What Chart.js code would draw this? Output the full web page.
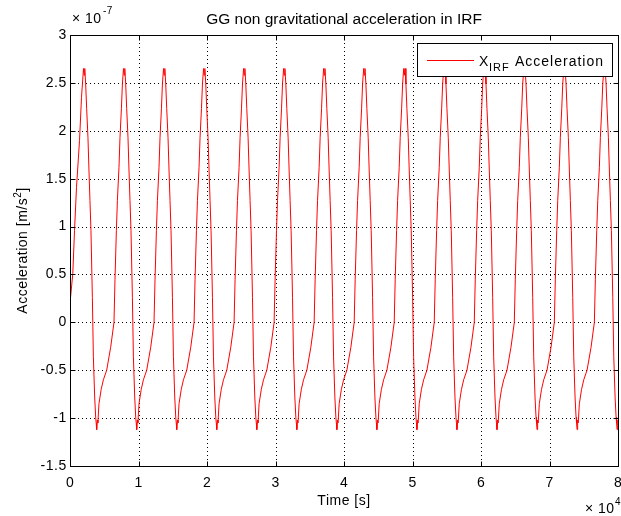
<!DOCTYPE html>
<html>
<head>
<meta charset="utf-8">
<script src="https://cdn.jsdelivr.net/npm/chart.js@4/dist/chart.umd.min.js"></script>
<style>
  html, body { margin: 0; padding: 0; background: #fff; }
  #wrap { width: 621px; height: 516px; }
</style>
</head>
<body>
<div id="wrap"><canvas id="chart" width="621" height="516"></canvas></div>
<script>
// time in s, acceleration in units of 1e-7 m/s^2
const xTicks = [0, 10000, 20000, 30000, 40000, 50000, 60000, 70000, 80000];
const yTicks = [-1.5, -1, -0.5, 0, 0.5, 1, 1.5, 2, 2.5, 3];

// first partial rise at the start of the record
const startTimes = [0, 410, 660, 950, 1390, 1680, 1970];
const startValues = [0.2, 0.51, 0.96, 1.41, 1.9, 2.35, 2.65];

// one orbit, times after the orbit's minimum
const cycleOffsets = [0, 88, 175, 336, 657, 979, 1461, 2045, 2528, 2674, 2878, 3024, 3258, 3404,
  3609, 3755, 3915, 4018, 4105, 4237, 4383, 4573, 4719, 4865, 5011, 5216, 5362, 5552, 5698, 5771];
const cycleValues = [-1.12, -1.02, -1.05, -0.85, -0.70, -0.60, -0.50, -0.26, 0.00, 0.45, 0.96, 1.27, 1.62, 1.93,
  2.23, 2.49, 2.65, 2.58, 2.65, 2.49, 2.23, 1.93, 1.59, 1.27, 0.96, 0.26, -0.36, -0.78, -0.99, -1.05];

// times of the minima (first one lies before the record starts)
const cycleStarts = [-1950, 3894, 9738, 15582, 21426, 27270, 33114, 38958, 44802, 50646,
  56490, 62334, 68178, 74022, 79866];

const points = startTimes.map((t, i) => ({ x: t, y: startValues[i] }));
cycleStarts.forEach(m => {
  cycleOffsets.forEach((o, i) => {
    const t = m + o;
    if (t > startTimes[startTimes.length - 1] && t <= 80000) points.push({ x: t, y: cycleValues[i] });
  });
});

const FONT = '"Liberation Sans", Arial, Helvetica, sans-serif';

const matlabAxes = {
  id: 'matlabAxes',
  beforeDatasetsDraw(chart) {
    const { ctx, chartArea: a, scales: { x, y } } = chart;
    ctx.save();
    ctx.strokeStyle = '#000';
    ctx.lineWidth = 1;
    ctx.setLineDash([1, 3]);
    xTicks.slice(1, -1).forEach(v => {
      const px = Math.round(x.getPixelForValue(v)) + 0.5;
      ctx.beginPath(); ctx.moveTo(px, a.top); ctx.lineTo(px, a.bottom); ctx.stroke();
    });
    yTicks.slice(1, -1).forEach(v => {
      const py = Math.round(y.getPixelForValue(v)) + 0.5;
      ctx.beginPath(); ctx.moveTo(a.left, py); ctx.lineTo(a.right, py); ctx.stroke();
    });
    ctx.restore();
  },
  afterDatasetsDraw(chart) {
    const { ctx, chartArea: a, scales: { x, y } } = chart;
    const L = Math.round(a.left) + 0.5, R = Math.round(a.right) + 0.5;
    const T = Math.round(a.top) + 0.5, B = Math.round(a.bottom) + 0.5;
    ctx.save();
    ctx.strokeStyle = '#000';
    ctx.lineWidth = 1;
    ctx.strokeRect(L, T, R - L, B - T);
    // inward ticks on all four sides
    ctx.beginPath();
    xTicks.forEach(v => {
      const px = Math.round(x.getPixelForValue(v)) + 0.5;
      ctx.moveTo(px, B); ctx.lineTo(px, B - 5);
      ctx.moveTo(px, T); ctx.lineTo(px, T + 5);
    });
    yTicks.forEach(v => {
      const py = Math.round(y.getPixelForValue(v)) + 0.5;
      ctx.moveTo(L, py); ctx.lineTo(L + 5, py);
      ctx.moveTo(R, py); ctx.lineTo(R - 5, py);
    });
    ctx.stroke();

    ctx.fillStyle = '#000';
    ctx.font = '14px ' + FONT;
    ctx.letterSpacing = '0.6px';
    ctx.textAlign = 'center';
    ctx.textBaseline = 'alphabetic';
    xTicks.forEach(v => ctx.fillText(String(v / 10000), x.getPixelForValue(v) + 0.3, 487));
    ctx.textAlign = 'right';
    ctx.textBaseline = 'middle';
    yTicks.forEach(v => ctx.fillText(String(v), 67, y.getPixelForValue(v)));

    // title and axis labels
    ctx.textBaseline = 'alphabetic';
    ctx.textAlign = 'center';
    ctx.letterSpacing = '0px';
    ctx.font = '15.5px ' + FONT;
    ctx.fillText('GG non gravitational acceleration in IRF', (a.left + a.right) / 2, 24);
    ctx.font = '14px ' + FONT;
    ctx.letterSpacing = '0.5px';
    ctx.fillText('Time [s]', (a.left + a.right) / 2, 505);

    ctx.save();
    ctx.translate(27, (a.top + a.bottom) / 2);
    ctx.rotate(-Math.PI / 2);
    const main = 'Acceleration [m/s', sup = '2', end = ']';
    ctx.font = '14px ' + FONT;
    const w1 = ctx.measureText(main).width, w3 = ctx.measureText(end).width;
    ctx.font = '10px ' + FONT;
    const w2 = ctx.measureText(sup).width;
    let sx = -(w1 + w2 + w3) / 2;
    ctx.textAlign = 'left';
    ctx.font = '14px ' + FONT;
    ctx.fillText(main, sx, 0);
    ctx.font = '10px ' + FONT;
    ctx.fillText(sup, sx + w1, -6);
    ctx.font = '14px ' + FONT;
    ctx.fillText(end, sx + w1 + w2, 0);
    ctx.restore();

    // exponent notes
    ctx.textAlign = 'left';
    ctx.letterSpacing = '0.5px';
    ctx.font = '14px ' + FONT;
    ctx.fillText('\u00d7 10', 72, 23);
    ctx.font = '10px ' + FONT;
    ctx.fillText('-7', 103, 14);
    ctx.font = '14px ' + FONT;
    ctx.fillText('\u00d7 10', 585, 513);
    ctx.font = '10px ' + FONT;
    ctx.fillText('4', 615, 505);

    // legend
    const ds = chart.data.datasets[0];
    ctx.fillStyle = '#fff';
    ctx.fillRect(417.5, 43.5, 195, 33);
    ctx.strokeStyle = '#000';
    ctx.strokeRect(417.5, 43.5, 195, 33);
    ctx.strokeStyle = ds.borderColor;
    ctx.beginPath(); ctx.moveTo(427, 60.5); ctx.lineTo(474, 60.5); ctx.stroke();
    ctx.fillStyle = '#000';
    ctx.letterSpacing = '1px';
    ctx.font = '14px ' + FONT;
    ctx.fillText('X', 479, 66);
    ctx.font = '11px ' + FONT;
    ctx.fillText('IRF', 489, 71);
    ctx.font = '14px ' + FONT;
    ctx.fillText('Acceleration', 515, 66);
    ctx.restore();
  }
};

new Chart(document.getElementById('chart'), {
  type: 'line',
  data: {
    datasets: [{
      label: 'X_IRF Acceleration',
      data: points,
      borderColor: '#ff0000',
      borderWidth: 1,
      pointRadius: 0,
      tension: 0,
      fill: false
    }]
  },
  options: {
    responsive: false,
    animation: false,
    layout: { padding: { left: 70, top: 35, right: 3, bottom: 50 } },
    plugins: { legend: { display: false }, title: { display: false }, tooltip: { enabled: false } },
    scales: {
      x: { type: 'linear', min: 0, max: 80000, display: false },
      y: { type: 'linear', min: -1.5, max: 3, display: false }
    }
  },
  plugins: [matlabAxes]
});
</script>
</body>
</html>
